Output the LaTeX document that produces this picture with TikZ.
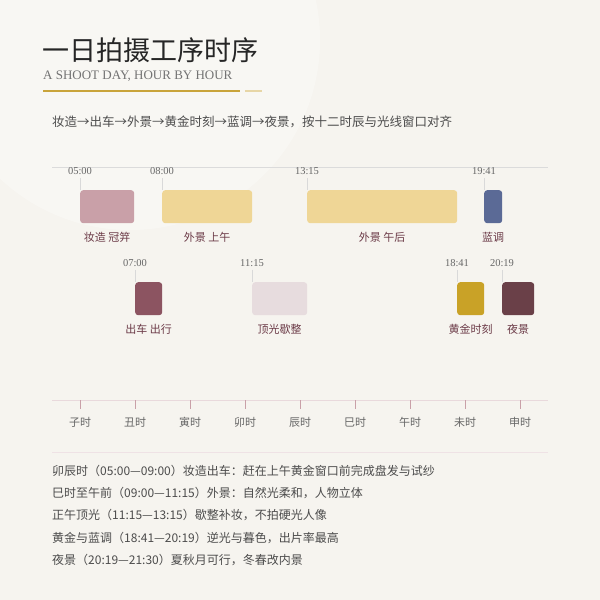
\documentclass[tikz,border=0pt]{standalone}
\usepackage{fontspec}
\setmainfont{Liberation Serif}
\newfontfamily\cjk{Noto Sans CJK SC}
\definecolor{bg}{HTML}{F6F4EF}
\definecolor{cMake}{HTML}{C9A0A8}
\definecolor{cOut}{HTML}{EFD696}
\definecolor{cBlue}{HTML}{5B6A96}
\definecolor{cCar}{HTML}{8C5461}
\definecolor{cNoon}{HTML}{E7DCDE}
\definecolor{cGold}{HTML}{C9A227}
\definecolor{cNight}{HTML}{6A4048}
\definecolor{lbl}{HTML}{6B3A47}
\definecolor{gline}{HTML}{C9A43A}
\tikzset{
  seg/.style={draw=none, rounded corners=3pt, minimum height=33pt, inner sep=0pt, anchor=north west},
  tlabel/.style={font=\fontsize{10.5}{12}\selectfont, text=black!60, inner sep=0pt},
  blabel/.style={font=\cjk\fontsize{11}{13}\selectfont, text=lbl, inner sep=0pt},
  stick/.style={draw=black!15, line width=0.8pt},
  hlabel/.style={font=\cjk\fontsize{11}{13}\selectfont, text=black!60, inner sep=0pt},
  htick/.style={draw=cMake, line width=0.8pt},
  note/.style={font=\cjk\fontsize{12}{14}\selectfont, text=black!70, inner sep=0pt, anchor=west}
}
\begin{document}
\begin{tikzpicture}[x=1pt,y=-1pt]
\useasboundingbox (0,0) rectangle (600,600);
\fill[bg] (0,0) rectangle (600,600);
\begin{scope}
\clip (0,0) rectangle (600,600);
\fill[white,opacity=0.3] (130,40) circle (190);
\end{scope}
% title
\node[font=\cjk\fontsize{27}{30}\selectfont, text=black!85, anchor=west, inner sep=0pt] (title) at (42,50) {一日拍摄工序时序};
\node[font=\fontsize{13}{15}\selectfont, text=black!55, anchor=west, inner sep=0pt] (sub) at (43,76) {A SHOOT DAY, HOUR BY HOUR};
\coordinate (g1) at (43,91);
\coordinate (g2) at (240,91);
\coordinate (g3) at (245,91);
\coordinate (g4) at (262,91);
\draw[gline, line width=2pt] (g1) -- (g2);
\draw[gline!45, line width=2pt] (g3) -- (g4);
\node[font=\cjk\fontsize{12.5}{14}\selectfont, text=black!70, anchor=west, inner sep=0pt] (intro) at (52,122) {妆造→出车→外景→黄金时刻→蓝调→夜景，按十二时辰与光线窗口对齐};
% top axis
\coordinate (ta1) at (52,167);
\coordinate (ta2) at (548,167);
\draw[black!14, line width=0.8pt] (ta1) -- (ta2);
% row 1
\node[seg, fill=cMake, minimum width=54pt] (b1) at (80,190) {};
\node[seg, fill=cOut, minimum width=90pt] (b2) at (162,190) {};
\node[seg, fill=cOut, minimum width=150pt] (b3) at (307,190) {};
\node[seg, fill=cBlue, minimum width=18pt] (b4) at (484,190) {};
% row 2
\node[seg, fill=cCar, minimum width=27pt] (b5) at (135,282) {};
\node[seg, fill=cNoon, minimum width=55pt] (b6) at (252,282) {};
\node[seg, fill=cGold, minimum width=27pt] (b7) at (457,282) {};
\node[seg, fill=cNight, minimum width=32pt] (b8) at (502,282) {};
% time labels
\node[tlabel] (t1) at (80,171) {05:00};
\node[tlabel] (t2) at (162,171) {08:00};
\node[tlabel] (t3) at (307,171) {13:15};
\node[tlabel] (t4) at (484,171) {19:41};
\node[tlabel] (t5) at (135,263) {07:00};
\node[tlabel] (t6) at (252,263) {11:15};
\node[tlabel] (t7) at (457,263) {18:41};
\node[tlabel] (t8) at (502,263) {20:19};
\foreach \i in {1,...,8} {
  \draw[stick] ([yshift=-3pt]t\i.south) -- (b\i.north west);
}
% box labels
\node[blabel] (l1) at (b1.south) [yshift=-14pt] {妆造 冠笄};
\node[blabel] (l2) at (b2.south) [yshift=-14pt] {外景 上午};
\node[blabel] (l3) at (b3.south) [yshift=-14pt] {外景 午后};
\node[blabel] (l4) at (b4.south) [yshift=-14pt] {蓝调};
\node[blabel] (l5) at (b5.south) [yshift=-14pt] {出车 出行};
\node[blabel] (l6) at (b6.south) [yshift=-14pt] {顶光歇整};
\node[blabel] (l7) at (b7.south) [yshift=-14pt] {黄金时刻};
\node[blabel] (l8) at (b8.south) [yshift=-14pt] {夜景};
% bottom axis
\coordinate (ba1) at (52,400);
\coordinate (ba2) at (548,400);
\draw[cMake!40, line width=0.8pt] (ba1) -- (ba2);
\foreach \n [count=\k] in {子时,丑时,寅时,卯时,辰时,巳时,午时,未时,申时} {
  \coordinate (hk\k) at ({80+55*(\k-1)},400);
  \draw[htick] (hk\k) -- ++(0,9);
  \node[hlabel] (h\k) at ({80+55*(\k-1)},422) {\n};
}
% separator
\coordinate (s1) at (52,452);
\coordinate (s2) at (548,452);
\draw[cMake!30, line width=0.8pt] (s1) -- (s2);
% notes
\node[note] (n1) at (52,471) {卯辰时（05:00—09:00）妆造出车：赶在上午黄金窗口前完成盘发与试纱};
\node[note] (n2) at (52,493) {巳时至午前（09:00—11:15）外景：自然光柔和，人物立体};
\node[note] (n3) at (52,515) {正午顶光（11:15—13:15）歇整补妆，不拍硬光人像};
\node[note] (n4) at (52,538) {黄金与蓝调（18:41—20:19）逆光与暮色，出片率最高};
\node[note] (n5) at (52,560) {夜景（20:19—21:30）夏秋月可行，冬春改内景};
\end{tikzpicture}
\end{document}
